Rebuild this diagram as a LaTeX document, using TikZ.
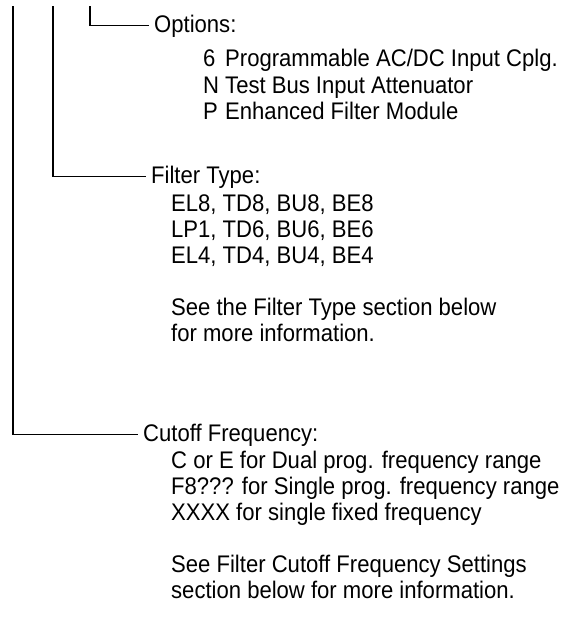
\documentclass[tikz,border=0pt]{standalone}
\usepackage{fontspec}
\setmainfont[FakeStretch=0.92]{Liberation Sans}
\usepackage{tikz}
\usetikzlibrary{positioning,calc}

\tikzset{
  head/.style={anchor=base west, inner xsep=5pt, inner ysep=0pt},
  body/.style={anchor=base west, inner sep=0pt},
  lead/.style={line width=1.2pt}
}

\begin{document}
\begin{tikzpicture}[x=1pt, y=-1pt, font=\fontsize{24}{28}\selectfont]
    \useasboundingbox (0,0) rectangle (571,630);

    % headings
    \node[head] (opt) at (149,32) {Options:};
    \node[head] (flt) at (146,183) {Filter Type:};
    \node[head] (cut) at (138,441) {Cutoff Frequency:};

    % lead lines from the top
    \coordinate (top3) at (90,6);
    \coordinate (top2) at (53,6);
    \coordinate (top1) at (13,6);
    \draw[lead] (top3) |- (opt.west);
    \draw[lead] (top2) |- (flt.west);
    \draw[lead] (top1) |- (cut.west);

    % option codes
    \foreach \i/\y/\k/\t in {1/66/6/{Programmable AC/DC Input Cplg.}, 2/93/N/{Test Bus Input Attenuator}, 3/119/P/{Enhanced Filter Module}} {
        \node[body] (optk\i) at (203,\y) {\k};
        \node[body] (opt\i) at (225,\y) {\t};
    }

    % filter types
    \foreach \i/\y/\t in {1/211/{EL8, TD8, BU8, BE8}, 2/237/{LP1, TD6, BU6, BE6}, 3/263/{EL4, TD4, BU4, BE4}, 4/315/{See the Filter Type section below}, 5/341/{for more information.}} {
        \node[body] (flt\i) at (171,\y) {\t};
    }

    % cutoff frequency
    \foreach \i/\y/\t in {1/468/{C or E for Dual prog. frequency range}, 2/494/{F8??? for Single prog. frequency range}, 3/520/{XXXX for single fixed frequency}, 4/572/{See Filter Cutoff Frequency Settings}, 5/598/{section below for more information.}} {
        \node[body] (cut\i) at (171,\y) {\t};
    }
\end{tikzpicture}
\end{document}
